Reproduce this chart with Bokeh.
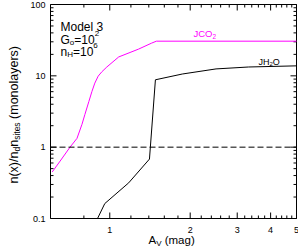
import math
from bokeh.plotting import figure
from bokeh.models import Range1d, Label
from bokeh.core.properties import value
from bokeh.embed import file_html
from bokeh.resources import INLINE

# ---- data ----
av_co2 = [0.609, 0.652, 0.710, 0.754, 0.787, 0.807, 0.835, 0.857, 0.879, 0.905, 0.934, 0.975, 1.080, 1.282, 1.433, 1.495, 5.0]
j_co2 = [0.449, 0.639, 1.0, 1.33, 2.09, 2.87, 4.36, 6.0, 7.9, 9.9, 11.4, 13.3, 18.4, 23.7, 28.7, 30.6, 30.6]
av_h2o = [0.900, 0.958, 1.177, 1.408, 1.482, 1.868, 2.499, 3.31, 5.0]
j_h2o = [0.100, 0.162, 0.316, 0.681, 8.8, 10.6, 12.5, 13.3, 13.8]
dash_level = 1.0
x_ticks = [1, 2, 3, 4, 5]
x_tick_labels = ["1", "2", "3", "4", "5"]
x_minor = [0.8, 1.2, 1.4, 1.6, 1.8, 2.2, 2.4, 2.6, 2.8, 3.2, 3.4, 3.6, 3.8, 4.2, 4.4, 4.6, 4.8]
y_ticks = [0.1, 1, 10, 100]
y_tick_labels = ["0.1", "1", "10", "100"]
y_minor = [0.2, 0.3, 0.4, 0.5, 0.6, 0.7, 0.8, 0.9, 2, 3, 4, 5, 6, 7, 8, 9, 20, 30, 40, 50, 60, 70, 80, 90]
x_lo, x_hi = 0.6, 5.0
y_lo, y_hi = 0.1, 100.0

FONT = "Liberation Sans"
MAG = "#ff00ff"

# page layout: canvas size and the plot box inside it (pixels)
CW, CH = 298, 246
BL, BR, BT, BB = 50, 296, 4, 218

dx = (math.log10(x_hi) - math.log10(x_lo)) / (BR - BL)
dy = (math.log10(y_hi) - math.log10(y_lo)) / (BB - BT)
xr = Range1d(10 ** (math.log10(x_lo) - BL * dx), 10 ** (math.log10(x_hi) + (CW - BR) * dx))
yr = Range1d(10 ** (math.log10(y_lo) - (CH - BB) * dy), 10 ** (math.log10(y_hi) + BT * dy))

p = figure(width=CW, height=CH, x_axis_type="log", y_axis_type="log",
           x_range=xr, y_range=yr, x_axis_location=None, y_axis_location=None,
           output_backend="svg", toolbar_location=None, min_border=0)
p.grid.visible = False
p.outline_line_color = None
p.background_fill_color = "white"
p.border_fill_color = "white"

# plot box
p.line([x_lo, x_hi, x_hi, x_lo, x_lo], [y_lo, y_lo, y_hi, y_hi, y_lo], line_color="black", line_width=1)

# ticks (pointing inward on all four sides)
def ticks_x(vals, length):
    n = len(vals)
    p.ray(x=vals, y=[y_lo] * n, length=length, length_units="screen", angle=math.pi / 2, line_color="black")
    p.ray(x=vals, y=[y_hi] * n, length=length, length_units="screen", angle=-math.pi / 2, line_color="black")

def ticks_y(vals, length):
    n = len(vals)
    p.ray(x=[x_lo] * n, y=vals, length=length, length_units="screen", angle=0, line_color="black")
    p.ray(x=[x_hi] * n, y=vals, length=length, length_units="screen", angle=math.pi, line_color="black")

ticks_x(x_ticks, 6)
ticks_x(x_minor, 3)
ticks_y(y_ticks, 6)
ticks_y(y_minor, 3)

# tick labels
p.text(x=x_ticks, y=[y_lo] * len(x_ticks), text=x_tick_labels, y_offset=11,
       text_align="center", text_baseline="middle", text_font_size="9px",
       text_font=value(FONT), text_color="black")
p.text(x=[x_lo] * len(y_ticks), y=y_ticks, text=y_tick_labels, x_offset=-5,
       text_align="right", text_baseline="middle", text_font_size="9px",
       text_font=value(FONT), text_color="black")

# curves
p.line(av_co2, j_co2, line_color=MAG, line_width=1)
p.line(av_h2o, j_h2o, line_color="black", line_width=1)
p.line([x_lo, x_hi], [dash_level, dash_level], line_color="black", line_width=1, line_dash="6 3")

# ---- rich text pieces (page pixel positions) ----
W = {'n': .556, '(': .333, 'x': .5, ')': .333, '/': .278, 'd': .556, 's': .5, 'i': .222,
     't': .278, 'e': .556, ' ': .278, 'm': .833, 'o': .556, 'l': .222, 'a': .556, 'y': .5,
     'r': .333, 'A': .667, 'V': .667, 'g': .556, 'M': .833, 'G': .778, '=': .584, '1': .556,
     '0': .556, '2': .556, '6': .556, '3': .556, 'H': .722, 'J': .5, 'C': .722, 'O': .778}

def tw(s, size):
    return sum(W[c] for c in s) * size

def put(txt, px, py, size, color="black", angle=0.0):
    p.add_layout(Label(x=px, y=CH - py, x_units="screen", y_units="screen",
                       text=txt, text_font=FONT, text_font_size=f"{size}px", text_color=color,
                       text_baseline="alphabetic", text_align="left", angle=angle))

def run(pieces, px, py, color="black"):
    for txt, size, dy_ in pieces:
        lead = len(txt) - len(txt.lstrip(" "))
        px += tw(" " * lead, size)
        txt = txt.lstrip(" ")
        put(txt, px, py + dy_, size, color)
        px += tw(txt, size)

def vrun(pieces, px, py):
    for txt, size, dy_ in pieces:
        lead = len(txt) - len(txt.lstrip(" "))
        py -= tw(" " * lead, size)
        txt = txt.lstrip(" ")
        put(txt, px + dy_, py, size, angle=math.pi / 2)
        py -= tw(txt, size)

run([("Model  3", 12, 0)], 60, 26)
run([("G", 12, 0), ("o", 8, 3), ("=10", 12, 0), ("2", 8, -6)], 60, 39)
run([("n", 12, 0), ("H", 8, 3), ("=10", 12, 0), ("6", 8, -6)], 60, 51)

run([("JCO", 9.5, 0), ("2", 6.5, 2.5)], 193, 33, MAG)
run([("JH", 9, 0), ("2", 6, 2.5), ("O", 9, 0)], 258, 61)

run([("A", 11.5, 0), ("V", 8, 3), (" (mag)", 11.5, 0)], 148, 239.5)
vrun([("n(x)/n", 12.5, 0), ("d", 8.5, 3), ("n", 12.5, 0), ("sites", 8.5, 3),
      (" (monolayers)", 12.5, 0)], 13, 183)

open("out.html", "w").write(file_html(p, INLINE))
